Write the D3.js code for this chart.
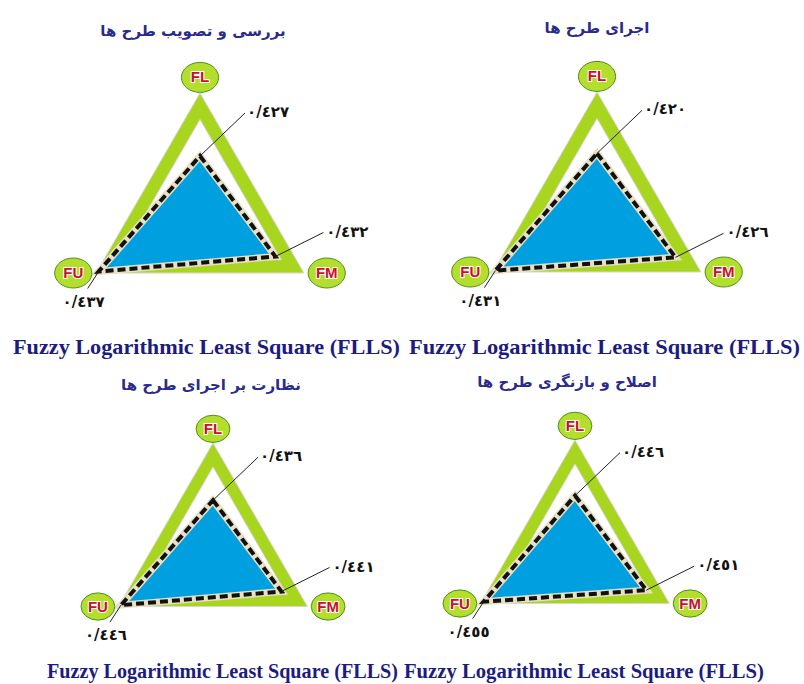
<!DOCTYPE html>
<html>
<head>
<meta charset="utf-8">
<script src="https://cdn.jsdelivr.net/npm/d3@7"></script>
<style>
  body { margin: 0; background: #fff; }
  svg { display: block; }
</style>
</head>
<body>
<div id="chart"></div>
<script>
// data, one entry per panel
var panel_titles = ['بررسی و تصویب طرح ها', 'اجرای طرح ها', 'نظارت بر اجرای طرح ها', 'اصلاح و بازنگری طرح ها'];
var axis_names = ['FL', 'FM', 'FU'];
var fl_values = [0.427, 0.420, 0.436, 0.446];
var fm_values = [0.432, 0.426, 0.441, 0.451];
var fu_values = [0.437, 0.431, 0.446, 0.455];
var axis_min = [0.4175, 0.409, 0.4265, 0.4368];
var axis_max = [0.4375, 0.4315, 0.4465, 0.4556];
var caption = 'Fuzzy Logarithmic Least Square (FLLS)';

var width = 804, height = 684;

// layout of the four panels (centre of radar + radius)
var panels = [
    {cx: 200, cy: 213, r: 120, title: [193, 36], cap: [13, 354, 387, 21]},
    {cx: 597, cy: 212, r: 120, title: [597, 33], cap: [409, 354, 391, 21]},
    {cx: 213, cy: 552, r: 109, title: [211, 390], cap: [47, 678, 351, 20]},
    {cx: 575, cy: 549, r: 109, title: [567, 387], cap: [404, 678, 360, 20]}
];
// angle of each axis, degrees (0 = right, clockwise)
var axis_angle = {FL: -90, FM: 30, FU: 150};

var to_fa = function (v) {
    var s = d3.format('.3f')(v).replace('.', '/');
    return s.replace(/[0-9]/g, function (c) {
        return String.fromCharCode(0x0660 + (+c));
    });
};

var svg = d3.select('#chart').append('svg')
    .attr('width', width)
    .attr('height', height);
svg.append('rect').attr('width', width).attr('height', height).attr('fill', '#fff');

var pt = function (p, ang, dist) {
    var a = ang * Math.PI / 180;
    return [p.cx + Math.cos(a) * dist, p.cy + Math.sin(a) * dist];
};

panels.forEach(function (p, i) {
    var g = svg.append('g');
    var rscale = d3.scaleLinear().domain([axis_min[i], axis_max[i]]).range([0, p.r]);
    var vals = {FL: fl_values[i], FM: fm_values[i], FU: fu_values[i]};
    var line = d3.line().curve(d3.curveLinearClosed);

    // green frame (outer grid ring)
    var band = p.r * 0.11;
    var outer = axis_names.map(function (k) { return pt(p, axis_angle[k], p.r); });
    var inner = axis_names.map(function (k) { return pt(p, axis_angle[k], p.r - 2 * band); });
    g.append('path')
        .attr('d', line(outer) + line(inner))
        .attr('fill-rule', 'evenodd')
        .attr('fill', '#a8d61e')
        .attr('stroke', '#d6d6d6')
        .attr('stroke-width', 1);

    // data polygon
    var data_pts = axis_names.map(function (k) {
        return pt(p, axis_angle[k], rscale(vals[k]));
    });
    g.append('path')
        .attr('d', line(data_pts))
        .attr('fill', '#00a0e0')
        .attr('stroke', '#e9dfc4')
        .attr('stroke-width', 7)
        .attr('stroke-linejoin', 'miter');
    g.append('path')
        .attr('d', line(data_pts))
        .attr('fill', 'none')
        .attr('stroke', '#111')
        .attr('stroke-width', 4)
        .attr('stroke-dasharray', '8,4');

    // leader lines + value labels
    var lead = {
        FL: {dx: 45, dy: -43, tx: 2, ty: 4, anchor: 'start'},
        FM: {dx: 48, dy: -24, tx: 3, ty: 4, anchor: 'start'},
        FU: {dx: -11, dy: 17, tx: -4, ty: 18, anchor: 'middle'}
    };
    axis_names.forEach(function (k, j) {
        var d = data_pts[j], o = lead[k];
        var e = [d[0] + o.dx, d[1] + o.dy];
        g.append('line')
            .attr('x1', d[0]).attr('y1', d[1])
            .attr('x2', e[0]).attr('y2', e[1])
            .attr('stroke', '#222')
            .attr('stroke-width', 1);
        g.append('text')
            .attr('x', e[0] + o.tx)
            .attr('y', e[1] + o.ty)
            .attr('text-anchor', o.anchor)
            .attr('font-family', 'DejaVu Sans')
            .attr('font-weight', 'bold')
            .attr('font-size', 15)
            .attr('fill', '#111')
            .text(to_fa(vals[k]));
    });

    // axis name bubbles
    var bub = {
        FL: [0, -0.13],
        FM: [0.19, 0],
        FU: [-0.19, 0]
    };
    axis_names.forEach(function (k, j) {
        var v = outer[j];
        var c = [v[0] + bub[k][0] * p.r, v[1] + bub[k][1] * p.r];
        g.append('ellipse')
            .attr('cx', c[0]).attr('cy', c[1])
            .attr('rx', p.r * 0.155).attr('ry', p.r * 0.125)
            .attr('fill', '#b4de2c')
            .attr('stroke', '#4b8f22')
            .attr('stroke-width', 1);
        g.append('text')
            .attr('x', c[0]).attr('y', c[1] + 5)
            .attr('text-anchor', 'middle')
            .attr('font-family', 'Liberation Sans')
            .attr('font-weight', 'bold')
            .attr('font-size', 15)
            .attr('fill', '#c8102e')
            .attr('stroke', '#fff')
            .attr('stroke-width', 2)
            .attr('paint-order', 'stroke')
            .text(k);
    });

    // panel title
    g.append('text')
        .attr('x', p.title[0]).attr('y', p.title[1])
        .attr('text-anchor', 'middle')
        .attr('direction', 'rtl')
        .attr('font-family', 'DejaVu Sans')
        .attr('font-weight', 'bold')
        .attr('font-size', 15)
        .attr('fill', '#2b2b8c')
        .text(panel_titles[i]);

    // caption
    g.append('text')
        .attr('x', p.cap[0]).attr('y', p.cap[1])
        .attr('textLength', p.cap[2])
        .attr('lengthAdjust', 'spacingAndGlyphs')
        .attr('font-family', 'Liberation Serif')
        .attr('font-weight', 'bold')
        .attr('font-size', p.cap[3])
        .attr('fill', '#1c1c80')
        .text(caption);
});
</script>
</body>
</html>
